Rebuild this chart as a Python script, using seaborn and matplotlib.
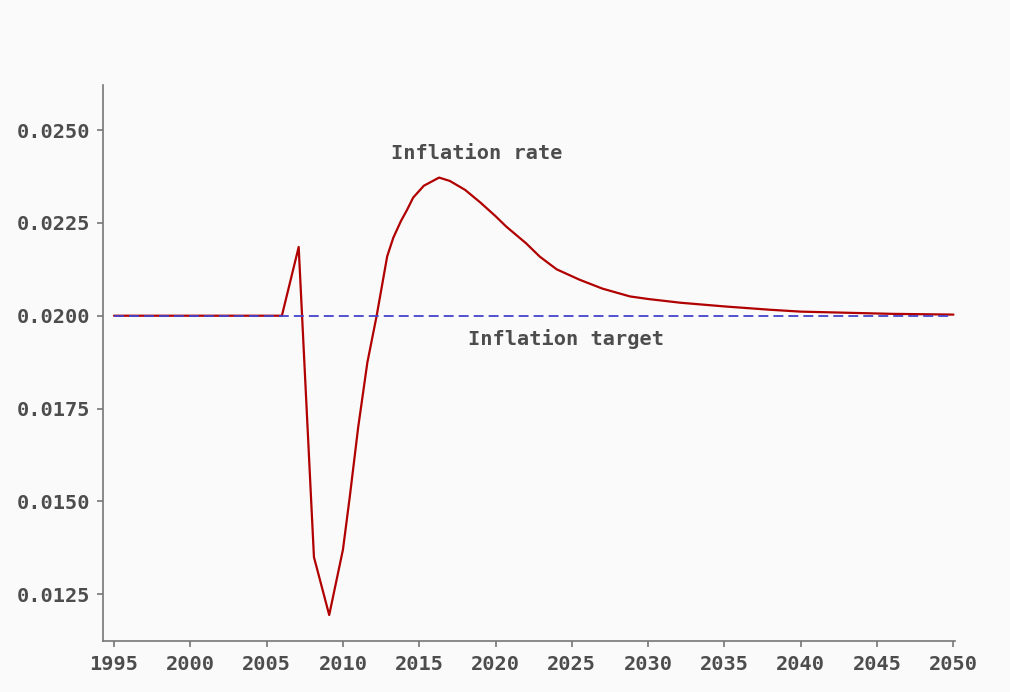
import matplotlib
matplotlib.use("Agg")
import matplotlib.pyplot as plt
import seaborn as sns
import pandas as pd

years = [1995.0, 2006.0, 2007.1, 2008.1, 2009.1, 2010.0, 2010.45, 2011.0, 2011.6,
         2012.2, 2012.9, 2013.3, 2013.8, 2014.2, 2014.6, 2015.3, 2016.3, 2017.0, 2018.0,
         2019.0, 2020.0, 2020.7, 2022.0, 2022.9, 2024.0, 2025.5, 2027.0, 2028.8,
         2030.0, 2032.1, 2035.0, 2038.0, 2040.0, 2042.0, 2046.0, 2050.0]
inflation = [0.02000, 0.02000, 0.02185, 0.01350, 0.01194, 0.01370, 0.01513, 0.01700, 0.01874,
             0.01998, 0.02160, 0.02210, 0.02255, 0.02285, 0.02318, 0.02350, 0.02372, 0.02363, 0.02339,
             0.02305, 0.02268, 0.02240, 0.02195, 0.02159, 0.02125, 0.02097, 0.02073, 0.02052,
             0.02045, 0.02035, 0.02025, 0.02016, 0.02011, 0.02009, 0.02005, 0.02003]
target_years = [1995.0, 2050.0]
target = [0.0200, 0.0200]

x_ticks = [1995, 2000, 2005, 2010, 2015, 2020, 2025, 2030, 2035, 2040, 2045, 2050]
y_ticks = [0.0125, 0.0150, 0.0175, 0.0200, 0.0225, 0.0250]

sns.set_style("ticks")
plt.rcParams['font.family'] = ['DejaVu Sans Mono', 'DejaVu Sans']

bg = '#fafafa'
fig = plt.figure(figsize=(10.1, 6.92), dpi=100, facecolor=bg)
ax = fig.add_axes([0.102, 0.0737, 0.8435, 0.8033], facecolor=bg)

df = pd.DataFrame({'year': years, 'rate': inflation})
dt = pd.DataFrame({'year': target_years, 'rate': target})
sns.lineplot(data=df, x='year', y='rate', ax=ax, color='#b00000', linewidth=1.6,
             estimator=None, sort=False, zorder=2)
sns.lineplot(data=dt, x='year', y='rate', ax=ax, color='#4444cc', linewidth=1.3,
             linestyle=(0, (5.5, 2.8)), estimator=None, zorder=3)

ax.set_xlim(1994.28, 2050.1)
ax.set_ylim(0.01124, 0.02621)
ax.set_xticks(x_ticks)
ax.set_yticks(y_ticks)
ax.set_yticklabels([f"{v:.4f}" for v in y_ticks])
ax.set_xlabel('')
ax.set_ylabel('')

txtc = '#4d4d4d'
fs = 14.6
ax.tick_params(axis='both', colors='#777777', labelcolor=txtc, labelsize=fs,
               length=4, width=1.2, direction='out')
ax.tick_params(axis='x', pad=6)
ax.tick_params(axis='y', pad=5)
for lab in ax.get_xticklabels() + ax.get_yticklabels():
    lab.set_fontweight('bold')
for side in ['top', 'right']:
    ax.spines[side].set_visible(False)
for side in ['left', 'bottom']:
    ax.spines[side].set_color('#777777')
    ax.spines[side].set_linewidth(1.2)

ax.text(2018.8, 0.02438, 'Inflation rate', ha='center', va='center',
        fontsize=fs, fontweight='bold', color=txtc)
ax.text(2024.6, 0.01938, 'Inflation target', ha='center', va='center',
        fontsize=fs, fontweight='bold', color=txtc)

fig.savefig('out.png', dpi=100, facecolor=bg)
